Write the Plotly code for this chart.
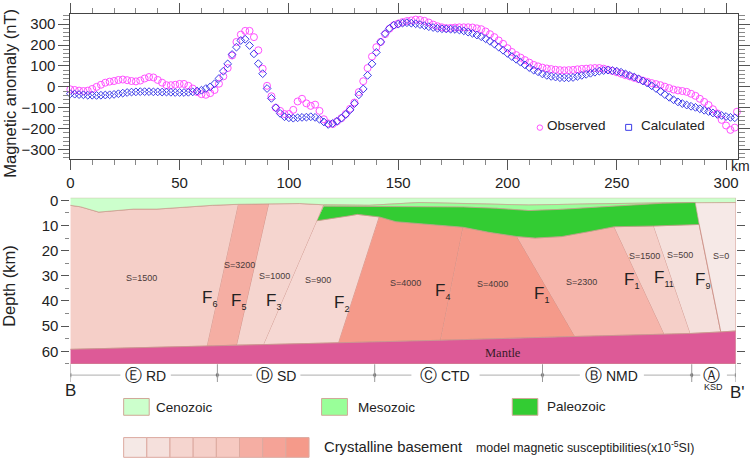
import plotly.graph_objects as go

W = 754
H = 462

# magnetic profile, one reading every 2 km
observed = [
    -12, -15, -18, -20, -18, -10, 0, 10, 20, 25,
    28, 33, 35, 32, 28, 26, 30, 40, 47, 45,
    33, 20, 8, 8, 10, 14, 14, 5, -8, -25,
    -35, -38, -30, -15, 15, 50, 90, 150, 215, 250,
    268, 268, 238, 175, 87, 5, -45, -100, -115, -130,
    -130, -110, -70, -57, -79, -91, -85, -115, -155, -175,
    -178, -165, -150, -130, -105, -75, -25, 27, 90, 145,
    190, 215, 252, 278, 295, 303, 310, 315, 318, 322,
    320, 316, 308, 298, 290, 285, 281, 282, 284, 285,
    285, 285, 284, 280, 276, 265, 252, 238, 222, 206,
    185, 167, 152, 140, 128, 116, 105, 98, 92, 88,
    85, 82, 80, 79, 80, 81, 84, 86, 87, 89,
    90, 90, 87, 82, 76, 70, 63, 56, 50, 43,
    37, 30, 24, 18, 13, 8, 1, -6, -13, -17,
    -20, -24, -33, -43, -57, -72, -87, -107, -127, -158,
    -185, -206, -195, -119,
]
observed_km = list(range(0, 305, 2)) + [305]

calculated = [
    -33, -35, -37, -38, -40, -40, -41, -40, -39, -38,
    -36, -33, -30, -27, -25, -24, -23, -23, -23, -24,
    -24, -25, -25, -26, -27, -27, -27, -26, -24, -20,
    -16, -8, 0, 15, 40, 75, 110, 155, 190, 222,
    228, 198, 158, 111, 63, -8, -55, -100, -127, -143,
    -148, -150, -148, -146, -145, -143, -146, -155, -168, -180,
    -175, -165, -150, -132, -110, -80, -38, -10, 55, 110,
    165, 215, 255, 280, 295, 300, 305, 307, 305, 302,
    298, 293, 288, 284, 280, 278, 277, 276, 275, 272,
    268, 262, 256, 248, 240, 230, 218, 205, 190, 175,
    160, 145, 132, 118, 105, 92, 80, 72, 62, 55,
    50, 47, 44, 43, 43, 45, 50, 55, 60, 65,
    70, 75, 78, 80, 78, 75, 70, 62, 55, 47,
    38, 28, 18, 5, -8, -22, -37, -50, -62, -72,
    -80, -87, -93, -98, -105, -112, -118, -125, -132, -137,
    -142, -146, -148,
]
calculated_km = list(range(0, 305, 2))

# geological units of the section: km along profile, depth in km
cenozoic_km = [0, 304.6, 304.6, 285.7, 268.9, 241.6, 209.7, 186.9, 159.6, 136.8,
               116, 105, 91, 77, 65, 39.6, 29, 13, 4.7, 0]
cenozoic_depth = [-1, -1, 0.9, 0.9, 1.06, 1.4, 1.9, 1.4, 0.9, 2, 1.8, 1.3, 1.4,
                  1.6, 2, 3.5, 3.5, 4.7, 2.6, 2]
mesozoic_km = [116, 136.8, 159.6, 186.9, 209.7, 241.6, 268.9, 285.7, 271, 241.6,
               225, 210, 195, 180, 116]
mesozoic_depth = [1.8, 2, 0.9, 1.4, 1.9, 1.4, 1.06, 0.9, 1.2, 2.7, 3.6, 4.1, 3.2,
                  2.7, 2.35]
paleozoic_km = [116, 180, 195, 210, 225, 241.6, 271, 286, 287.8, 267, 248.9, 237,
                224.9, 212.7, 204.4, 191.5, 179.8, 149, 141.4, 131.4, 127.6, 113]
paleozoic_depth = [2.35, 2.7, 3.2, 4.1, 3.6, 2.7, 1.2, 0.9, 9.6, 10.2, 10.5, 12.5,
                   14.4, 15, 14.4, 12.7, 10.7, 8.5, 6.6, 5.6, 6.2, 8.1]
mantle_km = [0, 62.7, 76.3, 88.6, 122.8, 169.5, 231, 271.9, 283.8, 297.7, 304.6,
             304.6, 0]
mantle_depth = [59.2, 57.9, 57.5, 57.3, 56.6, 55.6, 54.1, 53.2, 52.9, 52.3, 51.9,
                65, 65]

# crystalline basement blocks
block_km = [
    [0, 4.7, 13, 29, 39.6, 65, 77, 62.7, 0],
    [77, 91, 76.3, 62.7],
    [91, 105, 116, 113, 88.6, 76.3],
    [113, 127.6, 131.4, 141.4, 122.8, 88.6],
    [141.4, 149, 179.8, 169.5, 122.8],
    [179.8, 191.5, 204.4, 231, 169.5],
    [204.4, 212.7, 224.9, 237, 248.9, 271.9, 231],
    [248.9, 267, 283.8, 271.9],
    [267, 287.8, 297.7, 283.8],
    [286, 304.6, 304.6, 297.7, 287.8],
]
block_depth = [
    [2, 2.6, 4.7, 3.5, 3.5, 2, 1.6, 57.9, 59.2],
    [1.6, 1.4, 57.5, 57.9],
    [1.4, 1.3, 1.8, 8.1, 57.3, 57.5],
    [8.1, 6.2, 5.6, 6.6, 56.6, 57.3],
    [6.6, 8.5, 10.7, 55.6, 56.6],
    [10.7, 12.7, 14.4, 54.1, 55.6],
    [14.4, 15, 14.4, 12.5, 10.5, 53.2, 54.1],
    [10.5, 10.2, 52.9, 53.2],
    [10.2, 9.6, 52.3, 52.9],
    [0.9, 0.9, 51.9, 52.3, 9.6],
]
block_colors = ['#f5cfc8', '#f5aea3', '#f5d5cf', '#f6d8d3', '#f59a8a',
                '#f59a8a', '#f6b5ab', '#f5cfc8', '#f5e0dc', '#f6e9e7']

suscept_labels = ['S=1500', 'S=3200', 'S=1000', 'S=900', 'S=4000', 'S=4000',
                  'S=2300', 'S=1500', 'S=500', 'S=0']
suscept_km = [32.6, 77.2, 93.6, 113.5, 153.3, 193.3, 233.9, 262.7, 279.2, 298]
suscept_depth = [30.9, 25.7, 30.1, 31.6, 33, 33.3, 32.5, 22.3, 21.9, 22.1]

fault_labels = ['6', '5', '3', '2', '4', '1', '1', '11', '9']
fault_km = [63.6, 77.1, 93, 124.3, 170.3, 215.8, 257, 271.5, 289.4]
fault_depth = [39.2, 40.4, 40.2, 40.9, 36.3, 37.4, 32, 31.2, 31.7]

# tectonic divisions under the section
division_edges = [0, 67.3, 139.3, 216.1, 284.4, 304.6]
division_letters = ['\u24ba', '\u24b9', '\u24b8', '\u24b7', '\u24b6']
division_names = ['RD', 'SD', 'CTD', 'NMD', '']
division_gap_left = [22.9, 83.2, 156.1, 233.2, 288.3]
division_gap_right = [46, 105.3, 187.3, 262.5, 300.5]

ramp_colors = ['#f5e9e6', '#f5e0dc', '#f5d5cf', '#f5cfc8', '#f6c9c1',
               '#f5aea3', '#f5a397', '#f59a8a']

FONT = 'Liberation Sans'
TICK = '#555555'


def px(x):
    return x / W


def py(y):
    return 1 - y / H


def note(text, x, y, size, color='#222222', family=FONT, anchor='center', angle=0):
    return dict(text=text, x=px(x), y=py(y), xref='paper', yref='paper',
                showarrow=False, xanchor=anchor, yanchor='middle', textangle=angle,
                font=dict(family=family, size=size, color=color))


def swatch(x0, y0, x1, y1, color, line='#d0a898'):
    return dict(type='rect', xref='paper', yref='paper', x0=px(x0), x1=px(x1),
                y0=py(y1), y1=py(y0), fillcolor=color,
                line=dict(color=line, width=1))


data = [
    go.Scatter(x=observed_km, y=observed, mode='markers', xaxis='x', yaxis='y',
               marker=dict(symbol='circle-open', size=7, color='#ff50ff',
                           line=dict(width=1, color='#ff50ff')),
               showlegend=False, cliponaxis=False),
    go.Scatter(x=calculated_km, y=calculated, mode='markers', xaxis='x', yaxis='y',
               marker=dict(symbol='diamond-open', size=6, color='#3c3ce8',
                           line=dict(width=1, color='#3c3ce8')),
               showlegend=False, cliponaxis=False),
]

for km, depth, color in zip(block_km, block_depth, block_colors):
    data.append(go.Scatter(x=km, y=depth, fill='toself', fillcolor=color,
                           mode='lines', line=dict(color='#c98a80', width=0.8),
                           xaxis='x2', yaxis='y2', showlegend=False))
units = [
    (cenozoic_km, cenozoic_depth, '#ccffcc'),
    (mesozoic_km, mesozoic_depth, '#99ff99'),
    (paleozoic_km, paleozoic_depth, '#33cc33'),
    (mantle_km, mantle_depth, '#dd5a97'),
]
for km, depth, color in units:
    data.append(go.Scatter(x=km, y=depth, fill='toself', fillcolor=color,
                           mode='lines', line=dict(color='#c9a090', width=0.7),
                           xaxis='x2', yaxis='y2', showlegend=False))

annotations = []
shapes = []

for text, km, depth in zip(suscept_labels, suscept_km, suscept_depth):
    annotations.append(dict(text=text, x=km, y=depth, xref='x2', yref='y2',
                            showarrow=False,
                            font=dict(family=FONT, size=9, color='#4a3a3a')))
for sub, km, depth in zip(fault_labels, fault_km, fault_depth):
    annotations.append(dict(text='F<sub><span style="font-size:9px">%s</span></sub>' % sub,
                            x=km, y=depth, xref='x2', yref='y2', showarrow=False,
                            font=dict(family=FONT, size=17, color='#222222')))
annotations.append(dict(text='Mantle', x=198.2, y=60.5, xref='x2', yref='y2',
                        showarrow=False,
                        font=dict(family='Liberation Serif', size=12.5,
                                  color='#3a1a2a')))

for edge in division_edges:
    shapes.append(dict(type='line', xref='x2', yref='paper', x0=edge, x1=edge,
                       y0=py(366), y1=py(384), line=dict(color='#999999', width=1)))
for i, name in enumerate(division_names):
    annotations.append(dict(
        text='<span style="font-size:17px">%s</span> %s' % (division_letters[i], name),
        x=(division_gap_left[i] + division_gap_right[i]) / 2, y=py(377),
        xref='x2', yref='paper', xanchor='center', yanchor='middle', showarrow=False,
        font=dict(family=FONT, size=14, color='#222222')))
    for tail, head, symbol in ((division_gap_left[i], division_edges[i], 'triangle-left'),
                               (division_gap_right[i], division_edges[i + 1], 'triangle-right')):
        data.append(go.Scatter(x=[tail, head], y=[0, 0], mode='lines+markers',
                               xaxis='x2', yaxis='y3', showlegend=False,
                               line=dict(color='#999999', width=0.8),
                               marker=dict(symbol=['circle', symbol], size=[0, 4],
                                           color='#555555', line=dict(width=0))))

annotations += [
    note('Magnetic anomaly (nT)', 9, 91, 16.5, angle=-90),
    note('Depth (km)', 8, 286.6, 16.5, angle=-90),
    note('km', 743, 165, 14),
    note('Observed', 547, 124, 13.5, anchor='left'),
    note('Calculated', 641, 124, 13.5, anchor='left'),
    note('B', 70, 393, 17),
    note("B'", 740, 395, 17),
    note('KSD', 716, 389.5, 9),
    note('Cenozoic', 154, 410, 13.5, anchor='left'),
    note('Mesozoic', 357, 410, 13.5, anchor='left'),
    note('Paleozoic', 547, 408.5, 13.5, anchor='left'),
    note('Crystalline basement', 323, 450, 14.8, anchor='left'),
    note('model magnetic susceptibilities(x10<sup>-5</sup>SI)', 475.5, 450, 12.4,
         anchor='left'),
]

shapes += [
    dict(type='circle', xref='paper', yref='paper', x0=px(539), x1=px(544.5),
         y0=py(129), y1=py(123.5), line=dict(color='#ff50ff', width=1)),
    dict(type='rect', xref='paper', yref='paper', x0=px(628), x1=px(634),
         y0=py(129), y1=py(123), line=dict(color='#3c3ce8', width=1)),
    swatch(123.3, 400.7, 149, 417.7, '#ccffcc'),
    swatch(322.3, 400.7, 348.3, 417.7, '#99ff99'),
    swatch(514, 400.7, 539.7, 417.7, '#33cc33'),
]
for i, color in enumerate(ramp_colors):
    shapes.append(swatch(123.3 + i * 23.3, 440.3, 123.3 + (i + 1) * 23.3, 460.3,
                         color, line='#dcaaa0'))

tickfont = dict(family=FONT, size=15, color='#222222')

layout = go.Layout(
    width=W, height=H, autosize=False,
    margin=dict(l=0, r=0, t=0, b=0),
    paper_bgcolor='white', plot_bgcolor='white',
    annotations=annotations, shapes=shapes,
    xaxis=dict(domain=[px(69.7), px(741)], range=[0, 305.5], anchor='y',
               tickmode='linear', tick0=0, dtick=50, ticks='outside', ticklen=10,
               tickcolor=TICK, tickwidth=1, mirror='allticks', showline=True,
               linecolor='#444444', linewidth=1, showgrid=False, zeroline=False,
               tickfont=tickfont,
               minor=dict(dtick=10, ticks='outside', ticklen=5, tickcolor='#888888',
                          showgrid=False)),
    yaxis=dict(domain=[py(158), py(11.5)], range=[-345, 347], anchor='x',
               tickmode='linear', tick0=0, dtick=100, ticks='outside', ticklen=11,
               tickcolor=TICK, tickwidth=1, mirror='allticks', showline=True,
               linecolor='#444444', linewidth=1, showgrid=False, zeroline=False,
               tickfont=tickfont,
               minor=dict(dtick=20, ticks='outside', ticklen=6, tickcolor='#888888',
                          showgrid=False)),
    xaxis2=dict(domain=[px(69.7), px(738.8)], range=[0, 304.6], anchor='y2',
                visible=False),
    yaxis2=dict(domain=[py(365.7), py(197.3)], range=[65, -1], anchor='x2',
                tickmode='linear', tick0=0, dtick=10, ticks='outside', ticklen=8,
                tickcolor=TICK, tickwidth=1, mirror='allticks', showline=False,
                showgrid=False, zeroline=False, tickfont=tickfont,
                minor=dict(dtick=5, ticks='outside', ticklen=4, tickcolor='#888888',
                           showgrid=False)),
    yaxis3=dict(domain=[py(382), py(372)], range=[-1, 1], anchor='x2', visible=False),
)

fig = go.Figure(data=data, layout=layout)
# the page's default body margin would push the figure off the window
fig.write_html('out.html', config={'displayModeBar': False},
               post_script='document.body.style.margin = "-3px";')
